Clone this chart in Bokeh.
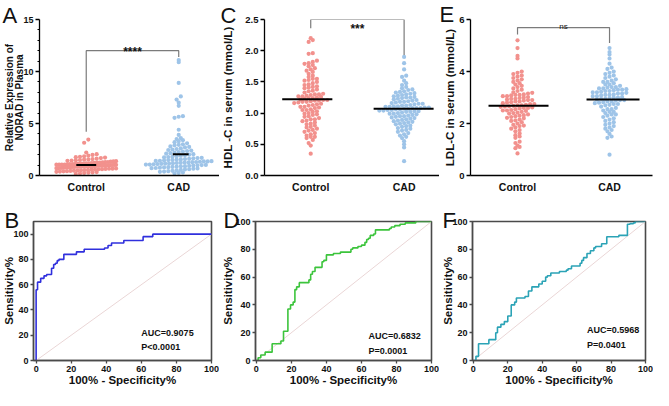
import numpy as np
from bokeh.plotting import figure
from bokeh.layouts import column, row
from bokeh.models import Label, FixedTicker, Range1d, LinearAxis
from bokeh.embed import file_html
from bokeh.resources import INLINE

# ---------------- data ----------------
groups = ["Control", "CAD"]

norad_control = [3.45, 3.15, 2.21, 2.05, 1.98, 1.92, 1.85, 1.80, 1.76, 1.72, 1.68, 1.62, 1.58, 1.55,
                 1.52, 1.49, 1.46, 1.44, 1.41, 1.38, 1.35, 1.33, 1.30, 1.28, 1.26, 1.24, 1.22, 1.20,
                 1.18, 1.16, 1.15, 1.13, 1.12, 1.10, 1.09, 1.08, 1.06, 1.05, 1.04, 1.03, 1.02, 1.01,
                 1.00, 0.99, 0.98, 0.97, 0.96, 0.95, 0.94, 0.93, 0.92, 0.91, 0.90, 0.89, 0.88, 0.87,
                 0.86, 0.85, 0.84, 0.83, 0.82, 0.81, 0.80, 0.78, 0.77, 0.75, 0.74, 0.72, 0.71, 0.70,
                 0.68, 0.66, 0.65, 0.63, 0.61, 0.60, 0.58, 0.56, 0.54, 0.52, 0.50, 0.48, 0.46, 0.44,
                 0.42, 0.40, 0.38, 0.35, 0.33, 0.30, 0.27, 0.24, 0.20, 0.15, 1.05, 0.95, 1.15, 0.85,
                 1.25, 0.92]
norad_cad = [11.1, 10.9, 8.9, 7.6, 7.3, 7.0, 6.7, 5.7, 5.65, 5.55, 4.4, 3.9, 3.6, 3.5, 3.4, 3.3,
             3.2, 3.1, 3.0, 2.95, 2.9, 2.8, 2.75, 2.7, 2.6, 2.55, 2.5, 2.45, 2.4, 2.35, 2.3, 2.25,
             2.2, 2.15, 2.1, 2.05, 2.0, 1.95, 1.9, 1.85, 1.8, 1.78, 1.75, 1.7, 1.68, 1.65, 1.6, 1.58,
             1.55, 1.52, 1.5, 1.48, 1.45, 1.42, 1.4, 1.38, 1.35, 1.32, 1.3, 1.28, 1.25, 1.22, 1.2,
             1.18, 1.15, 1.12, 1.1, 1.08, 1.05, 1.02, 1.0, 0.98, 0.95, 0.92, 0.9, 0.88, 0.85, 0.82,
             0.8, 0.78, 0.75, 0.72, 0.7, 0.68, 0.65, 0.6, 0.58, 0.55, 0.5, 0.45, 0.42, 0.38, 0.35,
             0.3, 0.25, 0.2, 1.25, 1.15, 1.35, 1.05]
hdl_control = [2.20, 2.17, 2.14, 1.96, 1.95, 1.84, 1.82, 1.80, 1.79, 1.77, 1.75, 1.72, 1.70, 1.68,
               1.66, 1.63, 1.60, 1.58, 1.55, 1.53, 1.52, 1.50, 1.48, 1.46, 1.45, 1.43, 1.41, 1.40,
               1.38, 1.36, 1.35, 1.33, 1.31, 1.30, 1.29, 1.28, 1.27, 1.26, 1.25, 1.24, 1.23, 1.22,
               1.21, 1.21, 1.20, 1.20, 1.19, 1.18, 1.17, 1.16, 1.15, 1.13, 1.12, 1.10, 1.09, 1.08,
               1.06, 1.05, 1.03, 1.02, 1.00, 0.99, 0.97, 0.95, 0.94, 0.92, 0.90, 0.88, 0.87, 0.85,
               0.83, 0.82, 0.80, 0.78, 0.77, 0.75, 0.73, 0.72, 0.70, 0.68, 0.66, 0.64, 0.62, 0.62,
               0.60, 0.57, 0.52, 0.48, 0.35, 1.27, 1.24, 1.18, 1.14, 1.30, 1.10, 0.98, 1.42, 1.55,
               0.90, 1.05]
hdl_cad = [1.90, 1.80, 1.70, 1.60, 1.58, 1.52, 1.48, 1.45, 1.42, 1.40, 1.38, 1.37, 1.35, 1.34,
           1.33, 1.32, 1.31, 1.30, 1.29, 1.28, 1.27, 1.26, 1.25, 1.24, 1.23, 1.22, 1.21, 1.20,
           1.19, 1.18, 1.17, 1.16, 1.15, 1.14, 1.13, 1.12, 1.11, 1.10, 1.10, 1.09, 1.09, 1.08,
           1.08, 1.07, 1.07, 1.06, 1.06, 1.05, 1.05, 1.04, 1.04, 1.03, 1.03, 1.02, 1.01, 1.00,
           0.99, 0.98, 0.97, 0.96, 0.95, 0.94, 0.93, 0.92, 0.91, 0.90, 0.89, 0.88, 0.87, 0.86,
           0.85, 0.84, 0.83, 0.82, 0.80, 0.79, 0.78, 0.76, 0.75, 0.73, 0.72, 0.70, 0.68, 0.66,
           0.64, 0.62, 0.60, 0.55, 0.50, 0.45, 0.23, 1.12, 1.15, 1.02, 0.95, 1.25, 1.18, 0.99,
           1.08, 1.11]
ldl_control = [5.2, 4.9, 4.6, 4.5, 4.0, 3.95, 3.9, 3.85, 3.8, 3.75, 3.7, 3.65, 3.6, 3.55, 3.5,
               3.45, 3.4, 3.35, 3.3, 3.25, 3.2, 3.18, 3.15, 3.12, 3.1, 3.08, 3.05, 3.02, 3.0, 2.98,
               2.95, 2.92, 2.9, 2.88, 2.85, 2.82, 2.8, 2.78, 2.75, 2.72, 2.7, 2.68, 2.66, 2.64,
               2.62, 2.6, 2.58, 2.55, 2.52, 2.5, 2.48, 2.45, 2.42, 2.4, 2.38, 2.35, 2.32, 2.3, 2.28,
               2.25, 2.22, 2.2, 2.15, 2.12, 2.1, 2.05, 2.0, 1.95, 1.92, 1.9, 1.85, 1.8, 1.75, 1.7,
               1.62, 1.55, 1.5, 1.45, 1.3, 1.25, 1.15, 1.1, 1.05, 0.85, 2.7, 2.75, 2.85, 2.95, 3.05,
               2.6, 2.5, 2.9, 3.1, 2.65]
ldl_cad = [4.9, 4.75, 4.65, 4.5, 4.3, 4.15, 4.1, 4.0, 3.95, 3.9, 3.85, 3.8, 3.75, 3.7, 3.65, 3.6,
           3.55, 3.5, 3.45, 3.4, 3.38, 3.35, 3.32, 3.3, 3.28, 3.25, 3.22, 3.2, 3.18, 3.15, 3.12,
           3.1, 3.08, 3.05, 3.02, 3.0, 2.98, 2.95, 2.92, 2.9, 2.88, 2.85, 2.82, 2.8, 2.78, 2.75,
           2.72, 2.7, 2.65, 2.6, 2.55, 2.5, 2.45, 2.4, 2.35, 2.3, 2.25, 2.2, 2.15, 2.1, 2.05, 2.0,
           1.95, 1.9, 1.85, 1.8, 1.75, 1.7, 1.6, 1.5, 1.45, 0.8, 3.2, 3.15, 3.1, 3.05, 3.25, 3.0,
           2.95, 2.9, 3.3, 2.85, 3.35, 2.75, 3.4, 3.6, 3.5, 2.55, 2.45, 2.35]

center_A = [1.0, 2.05]
center_C = [1.22, 1.07]
center_E = [2.68, 2.92]

sig_A = [12.0, 4.2, 11.4]      # bracket top, left leg end, right leg end
sig_C = [2.5, 2.36, 1.93]
sig_E = [5.69, 5.42, 5.1]
sig_text = ["****", "***", "ns"]
sig_text_y = [12.0, 2.35, 5.69]

ticks_A = [0, 5, 10, 15]
minor_A = [1, 2, 3, 4, 6, 7, 8, 9, 11, 12, 13, 14]
ticks_C = [0, 0.5, 1.0, 1.5, 2.0, 2.5]
ticklabels_C = ["0.0", "0.5", "1.0", "1.5", "2.0", "2.5"]
ticks_E = [0, 2, 4, 6]
ticks_roc = [0, 20, 40, 60, 80, 100]

# ROC curves (100% - specificity, sensitivity)
roc_B_fpr = [0, 0, 0.8, 2.6, 4.5, 6, 8.8, 10, 11, 12, 13, 15.8, 23, 27.4, 39, 41, 43, 50, 61, 66.5, 100]
roc_B_tpr = [0, 56, 62, 65, 67, 68, 73, 76, 77, 79, 80, 84, 86, 88, 89, 91, 93, 95, 98, 100, 100]
roc_D_fpr = [0, 1, 2.5, 5, 9, 14, 15.5, 18, 19.5, 21, 22, 23, 24.5, 30, 31, 32, 33.5, 37.5, 38.5,
             40, 44, 48, 54, 55, 58, 60, 62, 63, 64, 65, 67, 68, 76, 77, 79, 82, 85, 91, 100]
roc_D_tpr = [0, 2, 4, 6, 12, 14, 21, 37, 40, 42, 51, 53, 56, 58, 62, 64, 67, 71, 72, 76, 77, 78,
             80, 81, 82, 83, 85, 87, 88, 90, 91, 94, 95, 96, 97, 98, 99, 100, 100]
roc_F_fpr = [0, 1.5, 3, 9, 13, 14, 16, 18, 20, 22, 24, 25, 30, 32, 34, 38, 40, 42, 43, 45, 50, 54,
             55, 57, 62, 63, 64, 66, 68, 70, 71, 74.5, 77.5, 84.5, 89.5, 91, 93, 94, 100]
roc_F_tpr = [0, 3, 12, 15, 20, 24, 26, 28, 32, 40, 42, 45, 46, 50, 53, 55, 57, 60, 61, 63, 64, 65,
             66, 68, 70, 72, 74, 77, 79, 81, 82, 84, 89, 90, 98, 98.5, 99, 100, 100]
ref_diag = [0, 100]
auc_text = ["AUC=0.9075", "AUC=0.6832", "AUC=0.5968"]
p_text = ["P<0.0001", "P=0.0001", "P=0.0401"]

# ---------------- style ----------------
FONT = "Liberation Sans"
RED = "#F2918D"
BLUE = "#9EC4E8"
FRAME = "#4a4a4a"

TOP_H, TOP_BT, TOP_FH = 204, 19, 156
BOT_H, BOT_BT, BOT_FH = 186, 17, 139


def make_fig(w, h, bl, br, bt, fh, xr, yr, letter, letter_off, letter_standoff):
    p = figure(width=w, height=h, x_range=Range1d(*xr), y_range=Range1d(*yr),
               output_backend="svg", toolbar_location=None, title=letter,
               min_border_left=bl, min_border_right=br, min_border_top=bt,
               min_border_bottom=h - bt - fh)
    p.xgrid.visible = False
    p.ygrid.visible = False
    p.background_fill_color = "white"
    p.border_fill_color = "white"
    t = p.title
    t.align = "left"
    t.offset = letter_off
    t.standoff = letter_standoff
    t.text_font = FONT
    t.text_font_size = "22px"
    t.text_font_style = "normal"
    t.text_color = "#111111"
    return p


def style_title(ax, title, standoff, size):
    ax.axis_label = title
    ax.axis_label_text_font = FONT
    ax.axis_label_text_font_size = f"{size}px"
    ax.axis_label_text_font_style = "bold"
    ax.axis_label_text_color = "#111111"
    ax.axis_label_standoff = standoff


def style_axis(ax, fs, color="black", width=1.3, title=None, title_standoff=0, title_size=11.5):
    ax.axis_line_color = color
    ax.axis_line_width = width
    ax.major_tick_line_color = color
    ax.major_tick_line_width = width
    ax.minor_tick_line_color = color
    ax.major_label_text_font = FONT
    ax.major_label_text_font_size = fs
    ax.major_label_text_font_style = "bold"
    ax.major_label_text_color = "#111111"
    if title is not None:
        style_title(ax, title, title_standoff, title_size)


def add_text(p, text, x, y, size, bold=True, align="center", baseline="middle", y_off=0):
    p.add_layout(Label(x=x, y=y, text=text, text_font=FONT, text_font_size=f"{size}px",
                       text_font_style="bold" if bold else "normal", text_align=align,
                       text_baseline=baseline, text_color="#111111", y_offset=y_off))


def swarm_offsets(vals, px_y, px_x, cap_px, bin_px=3.6, dx_px=4.2):
    v = np.asarray(vals, dtype=float)
    b = np.floor(v * px_y / bin_px).astype(int)
    off = np.zeros(len(v))
    for key in np.unique(b):
        idx = np.where(b == key)[0]
        idx = idx[np.argsort(v[idx], kind="stable")]
        n = len(idx)
        d = dx_px
        if n > 1 and (n - 1) * d / 2 > cap_px:
            d = 2 * cap_px / (n - 1)
        off[idx] = (np.arange(n) - (n - 1) / 2) * d / px_x
    return off


def top_panel(w, bl, br, xr, yr, ticks, minor, ticklabels, ctrl, cad, centers, half_px, caps,
              sig, stext, stext_y, stext_size, stext_bold, stext_yoff, letter, letter_off,
              letter_standoff, title, title_standoff, title_size=11.5, tick_fs="9.5px",
              title2=None, title2_standoff=0):
    p = make_fig(w, TOP_H, bl, br, TOP_BT, TOP_FH, xr, yr, letter, letter_off, letter_standoff)
    p.outline_line_color = None
    fw = w - bl - br
    px_x = fw / (xr[1] - xr[0])
    px_y = TOP_FH / (yr[1] - yr[0])
    for gi, vals, col, cap in ((1, ctrl, RED, caps[0]), (2, cad, BLUE, caps[1])):
        off = swarm_offsets(vals, px_y, px_x, cap)
        p.scatter(x=gi + off, y=vals, marker="circle", size=4.2, fill_color=col, line_color=None)
    for gi, c, hp in zip((1, 2), centers, half_px):
        p.segment(x0=[gi + hp[0] / px_x], x1=[gi + hp[1] / px_x], y0=[c], y1=[c],
                  line_color="black", line_width=2)
    p.line(x=[1, 1, 2, 2], y=[sig[1], sig[0], sig[0], sig[2]], line_color="#7b7b7b", line_width=1.2)
    add_text(p, stext, 1.5, stext_y, stext_size, bold=stext_bold, baseline="alphabetic",
             y_off=stext_yoff)
    style_axis(p.xaxis[0], "10.5px")
    p.xaxis.ticker = FixedTicker(ticks=[1, 2])
    p.xaxis.major_label_overrides = {1: groups[0], 2: groups[1]}
    p.xaxis.major_tick_out = 0
    p.xaxis.major_tick_in = 0
    p.xaxis.major_tick_line_color = None
    p.xaxis.minor_tick_line_color = None
    p.xaxis.major_label_standoff = 5
    style_axis(p.yaxis[0], tick_fs, title=title, title_standoff=title_standoff,
               title_size=title_size)
    p.yaxis.ticker = FixedTicker(ticks=ticks, minor_ticks=minor)
    if ticklabels is not None:
        p.yaxis.major_label_overrides = {t: s for t, s in zip(ticks, ticklabels)}
    p.yaxis.major_tick_out = 4
    p.yaxis.major_tick_in = 0
    p.yaxis.minor_tick_out = 2
    p.yaxis.minor_tick_in = 0
    p.yaxis.major_label_standoff = 2
    if title2 is not None:
        # first line of a two-line axis title, carried by a bare outer axis
        extra = LinearAxis(ticker=FixedTicker(ticks=[]), axis_line_color=None,
                           major_tick_line_color=None, minor_tick_line_color=None,
                           major_tick_out=0, major_tick_in=0, minor_tick_out=0, minor_tick_in=0,
                           major_label_standoff=0, major_label_text_font_size="0px")
        style_title(extra, title2, title2_standoff, title_size)
        p.add_layout(extra, "left")
    return p


def roc_panel(w, bl, br, xr, yr, fpr, tpr, col, auc, pv, auc_xy, p_xy, letter, letter_off,
              ytitle_standoff):
    p = make_fig(w, BOT_H, bl, br, BOT_BT, BOT_FH, xr, yr, letter, letter_off, -23)
    p.outline_line_color = FRAME
    p.outline_line_width = 1.6
    p.line(x=ref_diag, y=ref_diag, line_color="#ead6d6", line_width=1)
    p.step(x=fpr, y=tpr, mode="after", line_color=col, line_width=1.6)
    style_axis(p.xaxis[0], "9px", color=FRAME, width=1.3, title="100% - Specificity%",
               title_standoff=-1)
    style_axis(p.yaxis[0], "9px", color=FRAME, width=1.3, title="Sensitivity%",
               title_standoff=ytitle_standoff)
    for ax in (p.xaxis[0], p.yaxis[0]):
        ax.ticker = FixedTicker(ticks=ticks_roc)
        ax.major_tick_out = 3
        ax.major_tick_in = 0
        ax.minor_tick_line_color = None
        ax.major_label_standoff = 2
    add_text(p, auc, auc_xy[0], auc_xy[1], 9, align="left")
    add_text(p, pv, p_xy[0], p_xy[1], 9, align="left")
    return p


pA = top_panel(219, 38, 0, (0.4946, 2.441), (0, 15), ticks_A, minor_A, None,
               norad_control, norad_cad, center_A, [(-10, 10), (-6, 10)], (30, 33),
               sig_A, sig_text[0], sig_text_y[0], 12, True, -1, "A", -37, -17,
               "NORAD in Plasma", -5, 10, "9px", "Relative Expression of", -3)
pC = top_panel(220, 42, 0, (0.505, 2.379), (0, 2.5), ticks_C, [], ticklabels_C,
               hdl_control, hdl_cad, center_C, [(-29, 22), (-31, 30)], (28, 30),
               sig_C, sig_text[1], sig_text_y[1], 12, True, 0, "C", -44, -17,
               "HDL -C in serum (mmol/L)", 8)
pE = top_panel(214, 31, 1, (0.489, 2.467), (0, 6), ticks_E, [], None,
               ldl_control, ldl_cad, center_E, [(-29, 31), (-23, 30)], (27, 30),
               sig_E, sig_text[2], sig_text_y[2], 8, False, 1, "E", -31, -15,
               "LDL-C in serum (mmol/L)", 0)

pB = roc_panel(219, 31, 8, (-1.5, 100), (0, 110), roc_B_fpr, roc_B_tpr, "#3030DD",
               auc_text[0], p_text[0], (60, 22), (60, 10.5), "B", -29, -5)
pD = roc_panel(220, 32, 8, (-0.5, 100), (0, 100), roc_D_fpr, roc_D_tpr, "#3CC43C",
               auc_text[1], p_text[1], (64, 17.5), (64, 6.5), "D", -32, -2)
pF = roc_panel(214, 30, 8, (-0.5, 100), (0, 100), roc_F_fpr, roc_F_tpr, "#2BA3B6",
               auc_text[2], p_text[2], (66, 22), (66, 11), "F", -30, -5)

layout = column(row(pA, pC, pE), row(pB, pD, pF))
open("out.html", "w").write(file_html(layout, INLINE))
